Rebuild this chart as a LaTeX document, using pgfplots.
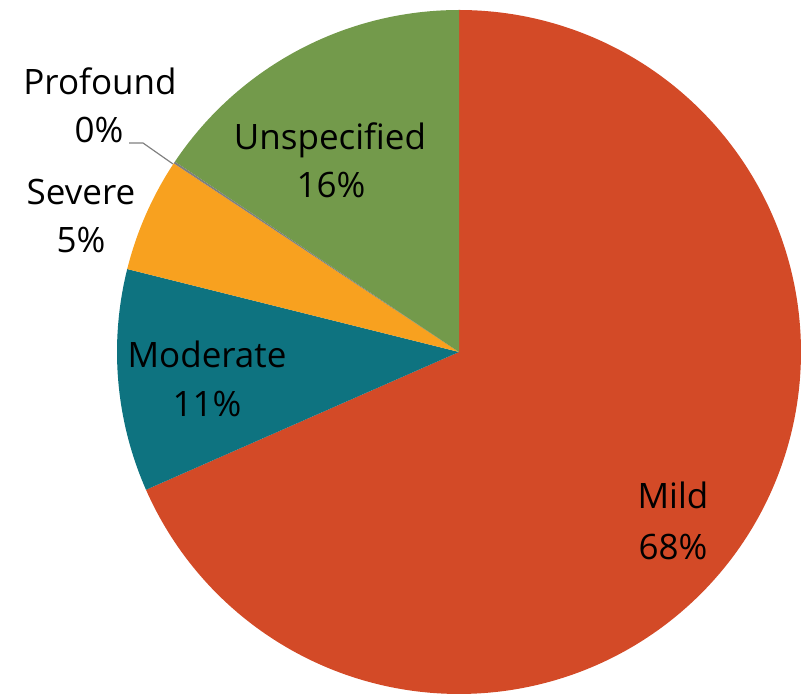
\documentclass[border=0pt]{standalone}
\usepackage{pgfplots}
\pgfplotsset{compat=1.18}
\usepackage{fontspec}
\setmainfont{Open Sans}
\definecolor{mild}{HTML}{D34A27}
\definecolor{moder}{HTML}{0E7380}
\definecolor{sev}{HTML}{F8A11F}
\definecolor{unsp}{HTML}{739A4B}
\definecolor{prof}{HTML}{7F7F7F}
\newcommand\pieslice[3]{% #1 start angle, #2 percent, #3 colour
  \pgfmathsetmacro\sa{#1}%
  \pgfmathtruncatemacro\nn{max(2,ceil(3.6*#2))}%
  \pgfmathsetmacro\st{-3.6*#2/\nn}%
  \xdef\pts{(0,0)}%
  \foreach \i in {0,...,\nn}{\pgfmathsetmacro\ang{\sa+\st*\i}\xdef\pts{\pts (\ang,342)}}%
  \edef\temp{\noexpand\addplot[data cs=polar, fill=#3, draw=none] coordinates {\pts (0,0)};}%
  \temp
}
\begin{document}
\begin{tikzpicture}
\begin{axis}[hide axis, scale only axis, width=401.5pt, height=347.5pt,
  xmin=-459, xmax=344, ymin=-343, ymax=352, clip=false]
\path (axis cs:-459,-343) rectangle (axis cs:344,352);
% percentages: Mild 68.4, Moderate 10.5, Severe 5.4, Profound 0.1, Unspecified 15.6
\pieslice{90}{68.4}{mild}
\pieslice{-156.24}{10.5}{moder}
\pieslice{-194.04}{5.4}{sev}
\pieslice{-213.48}{0.1}{prof}
\pieslice{-213.84}{15.6}{unsp}
\addplot[color=black!50, line width=0.6pt] coordinates {(-330,209) (-316,209) (-286,188)};
\begin{scope}[every node/.style={font=\fontsize{17.5}{21}\selectfont, anchor=base, inner sep=0pt}]
\node at (axis cs:214,-157) {Mild};
\node at (axis cs:214,-208) {68\%};
\node at (axis cs:-252,-16) {Moderate};
\node at (axis cs:-252,-65) {11\%};
\node at (axis cs:-378,147) {Severe};
\node at (axis cs:-378,99) {5\%};
\node at (axis cs:-359,257) {Profound};
\node at (axis cs:-360,209) {0\%};
\node at (axis cs:-129,202) {Unspecified};
\node at (axis cs:-128,154) {16\%};
\end{scope}
\end{axis}
\end{tikzpicture}
\end{document}
